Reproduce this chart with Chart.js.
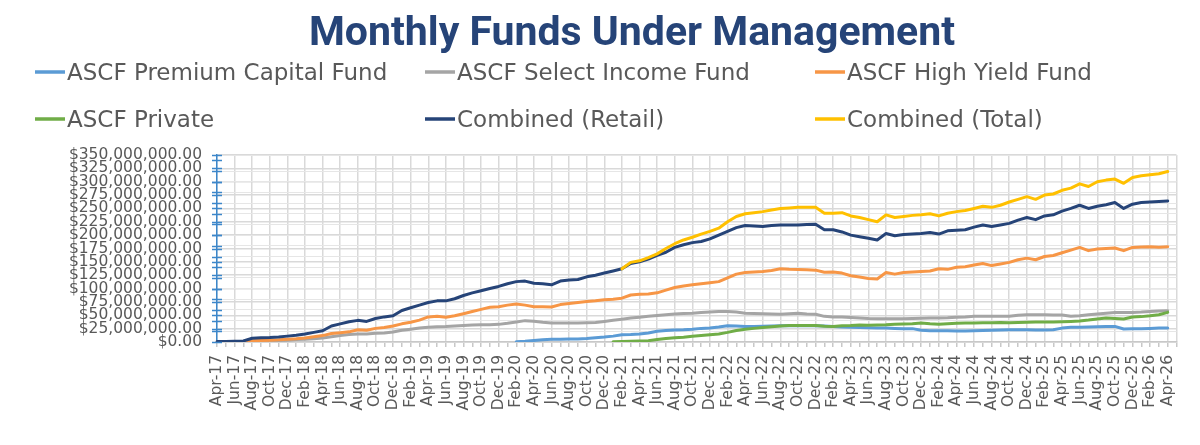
<!DOCTYPE html>
<html>
<head>
<meta charset="utf-8">
<title>Monthly Funds Under Management</title>
<script src="https://cdn.jsdelivr.net/npm/chart.js@4.4.1/dist/chart.umd.min.js"></script>
<style>
  html, body { margin: 0; padding: 0; background: #fff; }
  #wrap { width: 1200px; height: 445px; }
</style>
</head>
<body>
<div id="wrap"><canvas id="fumChart" width="1200" height="445"></canvas></div>
<script>
// categories: Apr-17 .. May-26 (last month is an empty slot, like the source sheet)
const MONTH_NAMES = ['Jan', 'Feb', 'Mar', 'Apr', 'May', 'Jun', 'Jul', 'Aug', 'Sep', 'Oct', 'Nov', 'Dec'];
const START_YEAR = 2017;
const START_MONTH = 3; // April
const MONTH_COUNT = 110;

let labels = [];
for (let i = 0; i < MONTH_COUNT; i++) {
    let mi = START_MONTH + i;
    let yy = (START_YEAR + Math.floor(mi / 12)) % 100;
    labels.push(MONTH_NAMES[mi % 12] + '-' + String(yy).padStart(2, '0'));
}

// series values in $ millions
const premiumStart = 34; // Feb-20
const premiumCapital = [
    0.5, 1.5, 3, 4.3, 5, 5, 5.6, 5.6, 6.5, 8, 9.3, 11, 13.7, 14, 15, 17,
    20, 21.5, 22.5, 23, 24, 25.5, 26, 28, 30.4, 30, 29, 29, 29.5, 30, 30.4, 30.4,
    30.4, 30.4, 30.4, 30, 29, 28, 27.4, 27, 26.5, 26, 26, 25.5, 25, 25, 22, 21,
    21, 21, 20.5, 20.5, 21, 21.7, 22, 22.5, 23, 23, 23, 22.5, 22.5, 23, 26, 27.4,
    27.5, 28, 28.5, 29, 29.2, 24.3, 25, 25, 25.5, 26, 26
];

const selectIncome = [
    0.2, 0.3, 0.5, 0.8, 1.5, 2, 2.5, 3, 3.5, 4.5,
    5, 6, 7.5, 10, 12, 14, 15, 15, 16.5, 17,
    18.6, 22, 24, 26, 27.5, 28.5, 29, 30, 31, 32,
    32.3, 32.5, 33, 35, 37.5, 40, 39, 37, 35.5, 35.5,
    35.5, 35.5, 36, 36.7, 38.5, 40.5, 42.5, 44.8, 46.5, 48,
    49.5, 51, 52.5, 53.5, 54, 55, 56, 57, 57.3, 56,
    54, 53.5, 53, 52.5, 52, 53, 54, 52.5, 52, 48,
    47, 47, 46, 45, 44, 43.5, 43.5, 43.5, 43.5, 44,
    44.5, 44.8, 45, 45.5, 46.5, 47, 48, 48, 48, 48,
    48, 50, 51, 51, 51, 50.5, 50.4, 48, 49, 51,
    52.5, 54, 55.4, 55.4, 55.4, 56, 57, 58, 58.5
];

const highYield = [
    0.5, 0.5, 0.8, 1, 2.5, 3, 3.5, 4, 5, 6,
    7.5, 10, 12, 16, 17.5, 19, 23, 22, 25.5, 27,
    30, 34, 37, 41, 47, 48, 46.5, 49, 53, 57,
    61, 65, 66, 69, 71, 69, 66, 66, 65.5, 70,
    72, 74, 76, 77, 79, 80, 82, 88, 89.5, 90,
    92, 97, 102, 105, 107, 109, 111, 113, 120, 127,
    130, 131, 132, 134, 137, 136, 135.5, 135, 134.5, 130.5,
    131, 129, 124, 121.5, 119, 118, 130, 127, 130, 131,
    132, 133, 137, 136, 140, 141, 144, 147, 143, 146,
    149, 154, 157, 154, 160, 162, 167, 172, 177, 171,
    174, 175, 176, 171, 177, 178, 178.5, 177.5, 178.5
];

const privateStart = 45; // Jan-21
const privateFund = [
    0.3, 0.8, 1.5, 2, 2.5,
    4.5, 6.5, 8, 9, 10.6, 12, 13.7, 15, 18, 21.5,
    24, 25.5, 27, 28.5, 30, 30.8, 31, 31, 31, 29.5,
    29, 30.4, 31, 32, 31.5, 32, 32.3, 33, 33.5, 34,
    35.5, 34, 33, 34, 35, 35.4, 35.4, 36, 36, 36.7,
    36, 36.5, 37, 37.3, 37.3, 37.5, 38, 38.6, 39.5, 41,
    43, 44.8, 44, 43, 46.7, 47.5, 49, 51, 55.4
];

const combinedRetail = [
    1, 1, 1.5, 2, 7, 8, 8.5, 9.5, 11, 12.5,
    15, 18, 21, 30, 34, 38, 40.5, 38.5, 44, 47,
    49, 59, 64, 69, 74, 77, 77, 81, 87, 92,
    96, 100, 104, 109, 113, 114, 110, 109, 107, 114,
    116, 117, 122, 125, 129, 133, 137, 147, 150, 155,
    162, 168, 177, 182, 186, 188, 193, 200, 207, 214,
    218, 217, 216, 218, 219, 219, 219, 220, 220.5, 210,
    210, 206, 200, 197, 194, 191, 203, 199, 201, 202,
    203, 205, 202, 208, 209, 210, 215, 219, 216, 219,
    222, 228, 233, 229, 236, 238, 245, 250, 256, 250,
    254, 257, 261, 250, 258, 261, 262, 263, 264
];

const totalStart = 46; // Feb-21
const combinedTotal = [
    137, 149, 152, 158,
    165, 175, 184, 191, 196, 202, 207, 213, 225, 235,
    240, 242, 244, 247, 250, 251, 252, 252, 252, 241,
    241, 242, 236, 233, 229, 225, 238, 233, 235, 237,
    238, 240, 236, 241, 244, 246, 250, 254, 252, 256,
    262, 267, 272, 267, 275, 277, 284, 288, 296, 291,
    300, 303, 305, 297, 308, 311, 313, 315, 319
];

const seriesNames = ['ASCF Premium Capital Fund', 'ASCF Select Income Fund', 'ASCF High Yield Fund',
    'ASCF Private', 'Combined (Retail)', 'Combined (Total)'];
const seriesColors = ['#5B9BD5', '#A5A5A5', '#F79646', '#70AD47', '#264478', '#FFC000'];

const Y_MAX = 350;
const Y_MAJOR = 25;
const Y_MINOR = 20;

// pad a series that starts later with empty months
function fromMonth(start, values) {
    let out = new Array(start).fill(null).concat(values);
    while (out.length < labels.length) out.push(null);
    return out;
}

const seriesData = [
    fromMonth(premiumStart, premiumCapital),
    fromMonth(0, selectIncome),
    fromMonth(0, highYield),
    fromMonth(privateStart, privateFund),
    fromMonth(0, combinedRetail),
    fromMonth(totalStart, combinedTotal)
];

function money(v) {
    return '$' + (v * 1e6).toLocaleString('en-US', { minimumFractionDigits: 2, maximumFractionDigits: 2 });
}

// title + two-row legend in the top padding area
const headerPlugin = {
    id: 'header',
    afterDraw(chart) {
        const ctx = chart.ctx;
        ctx.save();
        ctx.fillStyle = '#264478';
        ctx.font = 'bold 41px Roboto';
        ctx.textAlign = 'center';
        ctx.textBaseline = 'alphabetic';
        ctx.fillText('Monthly Funds Under Management', 632, 45);

        ctx.font = '23px "DejaVu Sans"';
        ctx.textAlign = 'left';
        chart.data.datasets.forEach((ds, i) => {
            let x = 35 + (i % 3) * 390;
            let y = 72 + Math.floor(i / 3) * 47;
            ctx.strokeStyle = ds.borderColor;
            ctx.lineWidth = 3.5;
            ctx.beginPath();
            ctx.moveTo(x, y);
            ctx.lineTo(x + 30, y);
            ctx.stroke();
            ctx.fillStyle = '#595959';
            ctx.fillText(ds.label, x + 32, y + 8);
        });
        ctx.restore();
    }
};

// blue tick marks crossing the value axis (major + minor units)
const axisTicksPlugin = {
    id: 'axisTicks',
    afterDraw(chart) {
        const ctx = chart.ctx;
        const yScale = chart.scales.y;
        const x0 = chart.chartArea.left;
        let marks = [];
        for (let v = 0; v <= Y_MAX; v += Y_MAJOR) marks.push(v);
        for (let v = Y_MINOR; v < Y_MAX; v += Y_MINOR) marks.push(v);
        ctx.save();
        ctx.strokeStyle = '#3C87CA';
        ctx.lineWidth = 1.5;
        marks.forEach(v => {
            let py = Math.round(yScale.getPixelForValue(v)) + 0.5;
            ctx.beginPath();
            ctx.moveTo(x0 - 5, py);
            ctx.lineTo(x0 + 5, py);
            ctx.stroke();
        });
        ctx.restore();
    }
};

const tickFont = { family: 'DejaVu Sans', size: 15.5, lineHeight: 1 };

new Chart(document.getElementById('fumChart').getContext('2d'), {
    type: 'line',
    data: {
        labels: labels,
        datasets: seriesNames.map((name, i) => ({
            label: name,
            data: seriesData[i],
            borderColor: seriesColors[i],
            backgroundColor: seriesColors[i],
            fill: false,
            order: seriesNames.length - i // later series on top, as in the source
        }))
    },
    options: {
        responsive: false,
        animation: false,
        devicePixelRatio: 1,
        layout: { padding: { top: 155, right: 19, bottom: 0, left: 0 } },
        elements: {
            point: { radius: 0, hoverRadius: 0 },
            line: { borderWidth: 3, tension: 0, borderJoinStyle: 'round', borderCapStyle: 'round' }
        },
        plugins: {
            legend: { display: false },
            title: { display: false },
            tooltip: { enabled: false }
        },
        scales: {
            x: {
                grid: {
                    color: c => (c.index % 2 === 0 || c.index === labels.length - 1) ? '#d9d9d9' : 'rgba(0,0,0,0)',
                    lineWidth: 1.5,
                    drawTicks: true,
                    tickLength: 5,
                    tickColor: '#c8c8c8'
                },
                border: { color: '#c8c8c8', width: 1.5 },
                ticks: {
                    autoSkip: false,
                    minRotation: 90,
                    maxRotation: 90,
                    padding: 8,
                    color: '#595959',
                    font: tickFont,
                    callback: (v, i) => i % 2 === 0 ? labels[i] : ''
                },
                afterFit: s => { s.height = 103; }
            },
            y: {
                min: 0,
                max: Y_MAX,
                ticks: {
                    stepSize: Y_MAJOR,
                    autoSkip: false,
                    padding: 15,
                    color: '#595959',
                    font: tickFont,
                    callback: v => money(v)
                },
                grid: { color: '#d9d9d9', lineWidth: 1.5, drawTicks: false },
                border: { color: '#3C87CA', width: 1.5 },
                afterFit: s => { s.width = 217; }
            },
            yMinor: {
                position: 'left',
                min: 0,
                max: Y_MAX,
                ticks: { display: false, stepSize: Y_MINOR },
                grid: { color: '#e6e6e6', lineWidth: 1, drawTicks: false },
                border: { display: false },
                afterFit: s => { s.width = 0; }
            }
        }
    },
    plugins: [headerPlugin, axisTicksPlugin]
});
</script>
</body>
</html>
